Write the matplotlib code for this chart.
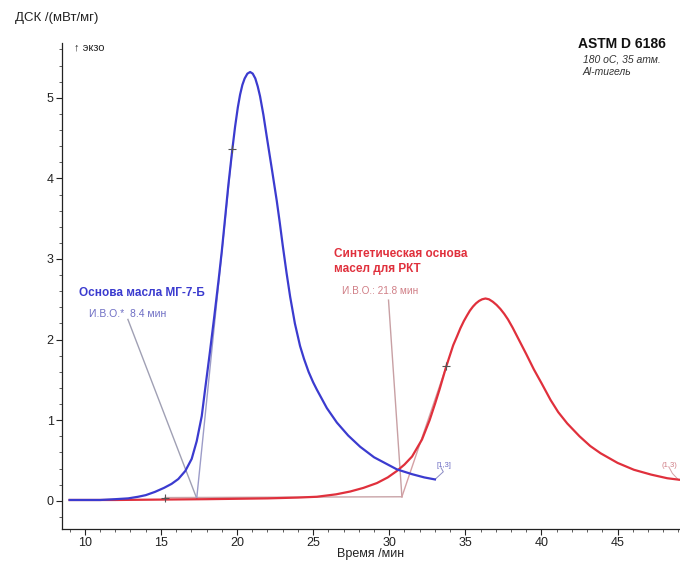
import matplotlib
matplotlib.use('Agg')
from matplotlib import pyplot as plt
from matplotlib.ticker import MultipleLocator

plt.rcParams['font.family'] = ['Liberation Sans', 'DejaVu Sans']

# ДСК-кривая основы масла МГ-7-Б
blue_t = [9.0, 10, 11, 12, 12.85, 13.5, 14.0, 14.6, 15.2, 15.7, 16.14, 16.6,
          17.02, 17.35, 17.68, 17.9, 18.2, 18.5, 18.8, 19.0, 19.2, 19.43,
          19.69, 19.87, 20.05, 20.2, 20.35, 20.5, 20.68, 20.86, 21.03, 21.2,
          21.36, 21.51, 21.73, 21.95, 22.3, 22.61, 22.8, 23.0, 23.25, 23.49,
          23.8, 24.14, 24.4, 24.7, 25.0, 25.24, 25.9, 26.56, 27.3, 28.09,
          29.0, 30.0, 30.5, 31.5, 32.3, 33.0]
blue_q = [0.01, 0.01, 0.01, 0.02, 0.03, 0.05, 0.07, 0.11, 0.16, 0.21, 0.27,
          0.37, 0.52, 0.74, 1.05, 1.38, 1.82, 2.28, 2.76, 3.1, 3.48, 3.92,
          4.36, 4.64, 4.88, 5.04, 5.16, 5.24, 5.3, 5.32, 5.3, 5.24,
          5.14, 5.02, 4.79, 4.52, 4.1, 3.72, 3.46, 3.17, 2.83, 2.53,
          2.2, 1.92, 1.76, 1.6, 1.47, 1.38, 1.15, 0.97, 0.81, 0.67,
          0.54, 0.44, 0.39, 0.33, 0.29, 0.265]

# ДСК-кривая синтетической основы
red_t = [9.0, 12, 15, 18, 20, 22, 24, 25.24, 26.5, 27.43, 28.3, 29.19, 29.9,
         30.5, 31.0, 31.5, 32.15, 32.65, 33.0, 33.3, 33.75, 34.2, 34.45,
         34.67, 34.9, 35.11, 35.3, 35.5, 35.7, 35.9, 36.1, 36.32, 36.55,
         36.8, 37.05, 37.3, 37.55, 37.8, 38.1, 38.4, 38.7, 39.0, 39.5, 40.0,
         40.6, 41.1, 41.69, 42.5, 43.2, 43.88, 45.0, 46.07, 47.2, 48.26, 49.1]
red_q = [0.01, 0.01, 0.015, 0.02, 0.025, 0.03, 0.04, 0.05, 0.08, 0.115, 0.16,
         0.22, 0.29, 0.37, 0.45, 0.55, 0.76, 1.0, 1.2, 1.38, 1.67, 1.93, 2.04,
         2.14, 2.23, 2.3, 2.36, 2.41, 2.45, 2.48, 2.5, 2.51, 2.5,
         2.47, 2.43, 2.38, 2.32, 2.25, 2.15, 2.04, 1.93, 1.82, 1.63, 1.46,
         1.25, 1.1, 0.96, 0.8, 0.68, 0.59, 0.47, 0.385, 0.325, 0.28, 0.26]

# построение касательных (начало окисления)
blue_tan_t = [17.35, 19.69]
blue_tan_q = [0.03, 4.36]
red_tan_t = [30.83, 33.75]
red_tan_q = [0.05, 1.67]
base_t = [15.26, 30.83]
base_q = [0.04, 0.05]
blue_lead_t = [12.83, 17.35]
blue_lead_q = [2.25, 0.03]
red_lead_t = [29.95, 30.83]
red_lead_q = [2.49, 0.05]

# выноски к меткам концов кривых
blue_hook_t = [33.0, 33.55, 33.4]
blue_hook_q = [0.265, 0.36, 0.41]
red_hook_t = [49.0, 48.6, 48.4]
red_hook_q = [0.26, 0.34, 0.41]

BLUE = '#3b3bcf'
RED = '#e0303c'

fig = plt.figure(figsize=(6.8, 5.63), dpi=100)
ax = fig.add_axes([62 / 680, 34 / 563, 1 - 62 / 680, 486 / 563])

ax.plot(base_t, base_q, color='#c9a4a8', lw=1.0)
ax.plot(blue_lead_t, blue_lead_q, color='#a0a0b4', lw=1.0)
ax.plot(blue_tan_t, blue_tan_q, color='#9c9cc8', lw=1.0)
ax.plot(red_lead_t, red_lead_q, color='#c8a0a4', lw=1.0)
ax.plot(red_tan_t, red_tan_q, color='#d4a0a4', lw=1.0)
ax.plot(blue_hook_t, blue_hook_q, color='#8c8cc4', lw=0.7)
ax.plot(red_hook_t, red_hook_q, color='#d4a0a4', lw=0.7)

ax.plot(red_t, red_q, color=RED, lw=1.6)
ax.plot(blue_t, blue_q, color=BLUE, lw=1.6)

# маркеры на касательных
ax.plot([blue_tan_t[1], red_tan_t[1], base_t[0]],
        [blue_tan_q[1], red_tan_q[1], base_q[0]],
        marker='+', ls='none', color='#555555', ms=6, mew=0.8)

ax.set_xlim(8.5, 49.1)
ax.set_ylim(-0.35, 5.68)
ax.xaxis.set_major_locator(MultipleLocator(5))
ax.xaxis.set_minor_locator(MultipleLocator(1))
ax.yaxis.set_major_locator(MultipleLocator(1))
ax.yaxis.set_minor_locator(MultipleLocator(0.2))
ax.set_xticks(range(10, 50, 5))
ax.tick_params(which='major', length=4, width=0.8, labelsize=9,
               colors='#222222', pad=2)
ax.tick_params(which='minor', length=2.5, width=0.6, colors='#444444')
for side in ['top', 'right']:
    ax.spines[side].set_visible(False)
for side in ['left', 'bottom']:
    ax.spines[side].set_linewidth(0.9)
    ax.spines[side].set_color('#222222')

ax.set_xlabel('Время /мин', fontsize=9, labelpad=-1, color='#222222')
fig.text(15 / 680, 1 - 18 / 563, 'ДСК /(мВт/мг)', fontsize=9.5, va='center',
         color='#222222')
fig.text(74 / 680, 1 - 47 / 563, '↑ экзо', fontsize=8, va='center',
         color='#222222')

fig.text(578 / 680, 1 - 44 / 563, 'ASTM D 6186', fontsize=10, weight='bold',
         va='center', color='#111111')
fig.text(583 / 680, 1 - 60 / 563, '180 oC, 35 атм.', fontsize=7.5,
         style='italic', va='center', color='#333333')
fig.text(583 / 680, 1 - 72 / 563, 'Al-тигель', fontsize=7.5,
         style='italic', va='center', color='#333333')

ax.text(9.6, 2.58, 'Основа масла МГ-7-Б', fontsize=8.5, weight='bold',
        color=BLUE, va='center')
ax.text(10.3, 2.32, 'И.В.О.*  8.4 мин', fontsize=7.5, color='#6e6ec4',
        va='center')
ax.text(26.4, 2.97, 'Синтетическая основа\nмасел для РКТ', fontsize=8.5,
        weight='bold', color=RED, va='center', linespacing=1.3)
ax.text(26.9, 2.6, 'И.В.О.: 21.8 мин', fontsize=7.2, color='#d07e86',
        va='center')

ax.text(33.1, 0.44, '[1,3]', fontsize=5.5, color='#6e6ec4', va='center')
ax.text(47.9, 0.44, '(1,3)', fontsize=5.5, color='#d07e86', va='center')

plt.savefig('out.png', dpi=100)
